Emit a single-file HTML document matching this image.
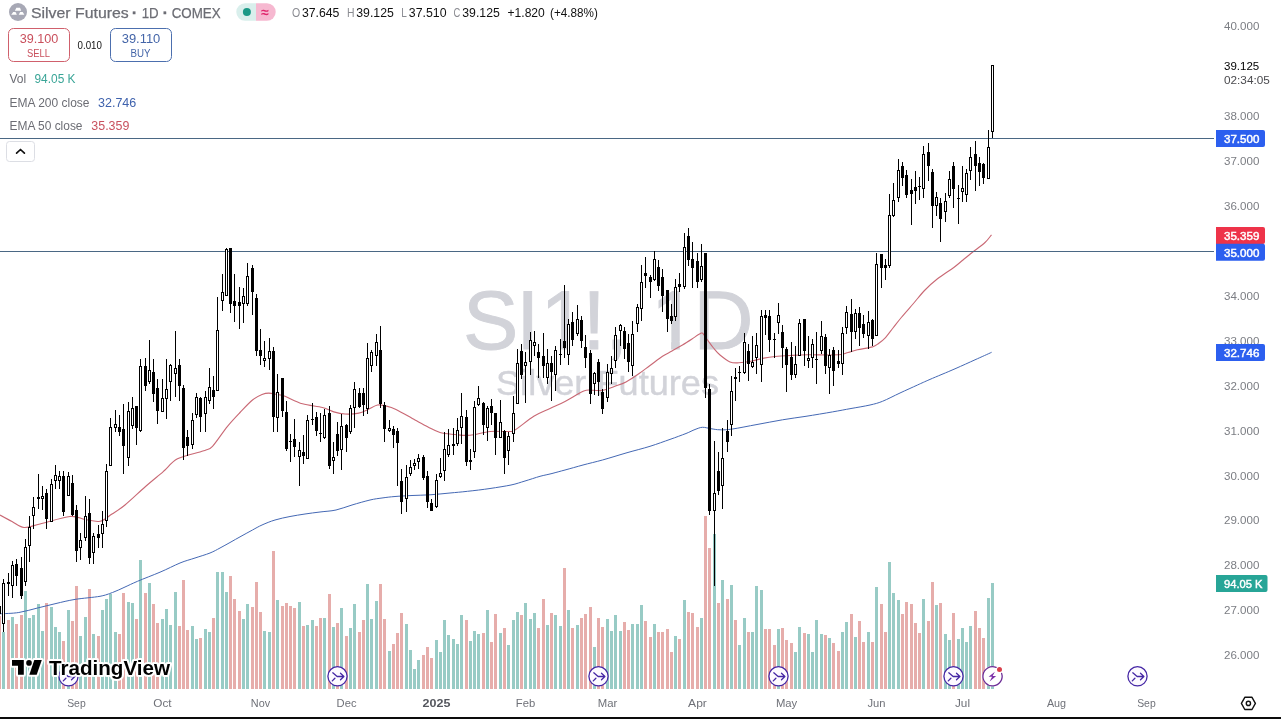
<!DOCTYPE html>
<html lang="en"><head><meta charset="utf-8"><title>Silver Futures 1D COMEX - TradingView</title>
<style>
html,body{margin:0;padding:0;background:#fff;}
body{width:1281px;height:719px;overflow:hidden;position:relative;font-family:"Liberation Sans",Arial,sans-serif;}
</style></head><body>
<svg width="1281" height="719" viewBox="0 0 1281 719" style="position:absolute;left:0;top:0">
<g font-family="'Liberation Sans', Arial, sans-serif" fill="#d2d3d9" stroke="#d2d3d9">
<text y="348.5" font-size="83" stroke-width="0.9" x="462.9 516.3 540.5 582.5 605.2 628 650.9 693.6">SI1!, 1D</text>
<rect x="543.5" y="341" width="17.2" height="9" fill="#fff" stroke="none"/>
<rect x="569.4" y="341" width="16" height="9" fill="#fff" stroke="none"/>
<rect x="653.9" y="341" width="17.2" height="9" fill="#fff" stroke="none"/>
<rect x="679.8" y="341" width="16" height="9" fill="#fff" stroke="none"/>
<text x="496" y="395" font-size="34.5" stroke-width="0.4" textLength="223" lengthAdjust="spacingAndGlyphs">Silver Futures</text>
</g>
<g shape-rendering="crispEdges">
<rect x="-2" y="616" width="3" height="73" fill="#e6adab"/>
<rect x="2" y="632" width="3" height="57" fill="#98cbc5"/>
<rect x="7" y="620" width="3" height="69" fill="#e6adab"/>
<rect x="11" y="617" width="3" height="72" fill="#98cbc5"/>
<rect x="15" y="624" width="3" height="65" fill="#e6adab"/>
<rect x="20" y="615" width="3" height="74" fill="#e6adab"/>
<rect x="24" y="591" width="3" height="98" fill="#98cbc5"/>
<rect x="28" y="618" width="3" height="71" fill="#98cbc5"/>
<rect x="32" y="615" width="3" height="74" fill="#98cbc5"/>
<rect x="37" y="604" width="3" height="85" fill="#98cbc5"/>
<rect x="41" y="631" width="3" height="58" fill="#98cbc5"/>
<rect x="45" y="603" width="3" height="86" fill="#e6adab"/>
<rect x="50" y="607" width="3" height="82" fill="#98cbc5"/>
<rect x="54" y="627" width="3" height="62" fill="#98cbc5"/>
<rect x="58" y="632" width="3" height="57" fill="#98cbc5"/>
<rect x="62" y="641" width="3" height="48" fill="#e6adab"/>
<rect x="67" y="610" width="3" height="79" fill="#98cbc5"/>
<rect x="71" y="621" width="3" height="68" fill="#e6adab"/>
<rect x="75" y="586" width="3" height="103" fill="#e6adab"/>
<rect x="79" y="636" width="3" height="53" fill="#98cbc5"/>
<rect x="84" y="617" width="3" height="72" fill="#98cbc5"/>
<rect x="88" y="589" width="3" height="100" fill="#e6adab"/>
<rect x="92" y="634" width="3" height="55" fill="#98cbc5"/>
<rect x="97" y="636" width="3" height="53" fill="#e6adab"/>
<rect x="101" y="610" width="3" height="79" fill="#98cbc5"/>
<rect x="105" y="599" width="3" height="90" fill="#98cbc5"/>
<rect x="109" y="594" width="3" height="95" fill="#98cbc5"/>
<rect x="114" y="632" width="3" height="57" fill="#98cbc5"/>
<rect x="118" y="634" width="3" height="55" fill="#e6adab"/>
<rect x="122" y="593" width="3" height="96" fill="#e6adab"/>
<rect x="127" y="602" width="3" height="87" fill="#98cbc5"/>
<rect x="131" y="603" width="3" height="86" fill="#98cbc5"/>
<rect x="135" y="619" width="3" height="70" fill="#e6adab"/>
<rect x="139" y="560" width="3" height="129" fill="#98cbc5"/>
<rect x="144" y="593" width="3" height="96" fill="#e6adab"/>
<rect x="148" y="583" width="3" height="106" fill="#98cbc5"/>
<rect x="152" y="604" width="3" height="85" fill="#e6adab"/>
<rect x="156" y="623" width="3" height="66" fill="#e6adab"/>
<rect x="161" y="619" width="3" height="70" fill="#98cbc5"/>
<rect x="165" y="609" width="3" height="80" fill="#98cbc5"/>
<rect x="169" y="625" width="3" height="64" fill="#98cbc5"/>
<rect x="174" y="592" width="3" height="97" fill="#98cbc5"/>
<rect x="178" y="626" width="3" height="63" fill="#e6adab"/>
<rect x="182" y="580" width="3" height="109" fill="#e6adab"/>
<rect x="186" y="630" width="3" height="59" fill="#e6adab"/>
<rect x="191" y="626" width="3" height="63" fill="#98cbc5"/>
<rect x="195" y="639" width="3" height="50" fill="#98cbc5"/>
<rect x="199" y="638" width="3" height="51" fill="#e6adab"/>
<rect x="204" y="629" width="3" height="60" fill="#98cbc5"/>
<rect x="208" y="632" width="3" height="57" fill="#98cbc5"/>
<rect x="212" y="618" width="3" height="71" fill="#e6adab"/>
<rect x="216" y="572" width="3" height="117" fill="#98cbc5"/>
<rect x="221" y="572" width="3" height="117" fill="#98cbc5"/>
<rect x="225" y="592" width="3" height="97" fill="#98cbc5"/>
<rect x="229" y="576" width="3" height="113" fill="#e6adab"/>
<rect x="233" y="599" width="3" height="90" fill="#e6adab"/>
<rect x="238" y="611" width="3" height="78" fill="#e6adab"/>
<rect x="242" y="619" width="3" height="70" fill="#98cbc5"/>
<rect x="246" y="604" width="3" height="85" fill="#98cbc5"/>
<rect x="251" y="607" width="3" height="82" fill="#e6adab"/>
<rect x="255" y="582" width="3" height="107" fill="#e6adab"/>
<rect x="259" y="612" width="3" height="77" fill="#e6adab"/>
<rect x="263" y="631" width="3" height="58" fill="#98cbc5"/>
<rect x="268" y="632" width="3" height="57" fill="#98cbc5"/>
<rect x="272" y="551" width="3" height="138" fill="#e6adab"/>
<rect x="276" y="600" width="3" height="89" fill="#98cbc5"/>
<rect x="281" y="606" width="3" height="83" fill="#e6adab"/>
<rect x="285" y="603" width="3" height="86" fill="#e6adab"/>
<rect x="289" y="606" width="3" height="83" fill="#e6adab"/>
<rect x="293" y="608" width="3" height="81" fill="#e6adab"/>
<rect x="298" y="602" width="3" height="87" fill="#98cbc5"/>
<rect x="302" y="626" width="3" height="63" fill="#e6adab"/>
<rect x="306" y="625" width="3" height="64" fill="#98cbc5"/>
<rect x="311" y="620" width="3" height="69" fill="#98cbc5"/>
<rect x="315" y="626" width="3" height="63" fill="#e6adab"/>
<rect x="319" y="618" width="3" height="71" fill="#e6adab"/>
<rect x="323" y="618" width="3" height="71" fill="#98cbc5"/>
<rect x="328" y="594" width="3" height="95" fill="#e6adab"/>
<rect x="332" y="627" width="3" height="62" fill="#98cbc5"/>
<rect x="336" y="623" width="3" height="66" fill="#e6adab"/>
<rect x="340" y="608" width="3" height="81" fill="#98cbc5"/>
<rect x="345" y="636" width="3" height="53" fill="#e6adab"/>
<rect x="349" y="628" width="3" height="61" fill="#98cbc5"/>
<rect x="353" y="604" width="3" height="85" fill="#98cbc5"/>
<rect x="358" y="632" width="3" height="57" fill="#e6adab"/>
<rect x="362" y="620" width="3" height="69" fill="#e6adab"/>
<rect x="366" y="584" width="3" height="105" fill="#98cbc5"/>
<rect x="370" y="619" width="3" height="70" fill="#98cbc5"/>
<rect x="375" y="601" width="3" height="88" fill="#98cbc5"/>
<rect x="379" y="584" width="3" height="105" fill="#e6adab"/>
<rect x="383" y="619" width="3" height="70" fill="#e6adab"/>
<rect x="388" y="651" width="3" height="38" fill="#98cbc5"/>
<rect x="392" y="644" width="3" height="45" fill="#e6adab"/>
<rect x="396" y="633" width="3" height="56" fill="#e6adab"/>
<rect x="400" y="613" width="3" height="76" fill="#e6adab"/>
<rect x="405" y="624" width="3" height="65" fill="#98cbc5"/>
<rect x="409" y="650" width="3" height="39" fill="#98cbc5"/>
<rect x="413" y="669" width="3" height="20" fill="#98cbc5"/>
<rect x="417" y="660" width="3" height="29" fill="#98cbc5"/>
<rect x="422" y="655" width="3" height="34" fill="#e6adab"/>
<rect x="426" y="647" width="3" height="42" fill="#e6adab"/>
<rect x="430" y="658" width="3" height="31" fill="#e6adab"/>
<rect x="435" y="640" width="3" height="49" fill="#98cbc5"/>
<rect x="439" y="652" width="3" height="37" fill="#98cbc5"/>
<rect x="443" y="620" width="3" height="69" fill="#98cbc5"/>
<rect x="447" y="635" width="3" height="54" fill="#98cbc5"/>
<rect x="452" y="639" width="3" height="50" fill="#98cbc5"/>
<rect x="456" y="644" width="3" height="45" fill="#98cbc5"/>
<rect x="460" y="615" width="3" height="74" fill="#98cbc5"/>
<rect x="465" y="620" width="3" height="69" fill="#e6adab"/>
<rect x="469" y="641" width="3" height="48" fill="#98cbc5"/>
<rect x="473" y="631" width="3" height="58" fill="#98cbc5"/>
<rect x="477" y="634" width="3" height="55" fill="#98cbc5"/>
<rect x="482" y="633" width="3" height="56" fill="#e6adab"/>
<rect x="486" y="610" width="3" height="79" fill="#98cbc5"/>
<rect x="490" y="642" width="3" height="47" fill="#e6adab"/>
<rect x="494" y="614" width="3" height="75" fill="#e6adab"/>
<rect x="499" y="633" width="3" height="56" fill="#98cbc5"/>
<rect x="503" y="628" width="3" height="61" fill="#e6adab"/>
<rect x="507" y="645" width="3" height="44" fill="#98cbc5"/>
<rect x="512" y="620" width="3" height="69" fill="#98cbc5"/>
<rect x="516" y="612" width="3" height="77" fill="#98cbc5"/>
<rect x="520" y="615" width="3" height="74" fill="#e6adab"/>
<rect x="524" y="603" width="3" height="86" fill="#98cbc5"/>
<rect x="529" y="619" width="3" height="70" fill="#98cbc5"/>
<rect x="533" y="613" width="3" height="76" fill="#98cbc5"/>
<rect x="537" y="628" width="3" height="61" fill="#e6adab"/>
<rect x="542" y="599" width="3" height="90" fill="#e6adab"/>
<rect x="546" y="625" width="3" height="64" fill="#98cbc5"/>
<rect x="550" y="613" width="3" height="76" fill="#e6adab"/>
<rect x="554" y="615" width="3" height="74" fill="#98cbc5"/>
<rect x="559" y="626" width="3" height="63" fill="#98cbc5"/>
<rect x="563" y="568" width="3" height="121" fill="#e6adab"/>
<rect x="567" y="610" width="3" height="79" fill="#98cbc5"/>
<rect x="571" y="628" width="3" height="61" fill="#e6adab"/>
<rect x="576" y="625" width="3" height="64" fill="#98cbc5"/>
<rect x="580" y="618" width="3" height="71" fill="#e6adab"/>
<rect x="584" y="614" width="3" height="75" fill="#e6adab"/>
<rect x="589" y="607" width="3" height="82" fill="#e6adab"/>
<rect x="593" y="647" width="3" height="42" fill="#98cbc5"/>
<rect x="597" y="618" width="3" height="71" fill="#e6adab"/>
<rect x="601" y="627" width="3" height="62" fill="#e6adab"/>
<rect x="606" y="619" width="3" height="70" fill="#98cbc5"/>
<rect x="610" y="631" width="3" height="58" fill="#98cbc5"/>
<rect x="614" y="615" width="3" height="74" fill="#98cbc5"/>
<rect x="619" y="631" width="3" height="58" fill="#98cbc5"/>
<rect x="623" y="622" width="3" height="67" fill="#e6adab"/>
<rect x="627" y="630" width="3" height="59" fill="#e6adab"/>
<rect x="631" y="624" width="3" height="65" fill="#98cbc5"/>
<rect x="636" y="624" width="3" height="65" fill="#98cbc5"/>
<rect x="640" y="605" width="3" height="84" fill="#98cbc5"/>
<rect x="644" y="621" width="3" height="68" fill="#e6adab"/>
<rect x="649" y="637" width="3" height="52" fill="#e6adab"/>
<rect x="653" y="624" width="3" height="65" fill="#98cbc5"/>
<rect x="657" y="632" width="3" height="57" fill="#e6adab"/>
<rect x="661" y="632" width="3" height="57" fill="#e6adab"/>
<rect x="666" y="629" width="3" height="60" fill="#e6adab"/>
<rect x="670" y="652" width="3" height="37" fill="#e6adab"/>
<rect x="674" y="636" width="3" height="53" fill="#98cbc5"/>
<rect x="678" y="639" width="3" height="50" fill="#e6adab"/>
<rect x="683" y="600" width="3" height="89" fill="#98cbc5"/>
<rect x="687" y="612" width="3" height="77" fill="#e6adab"/>
<rect x="691" y="613" width="3" height="76" fill="#e6adab"/>
<rect x="696" y="627" width="3" height="62" fill="#e6adab"/>
<rect x="700" y="618" width="3" height="71" fill="#98cbc5"/>
<rect x="704" y="516" width="3" height="173" fill="#e6adab"/>
<rect x="708" y="548" width="3" height="141" fill="#e6adab"/>
<rect x="713" y="534" width="3" height="155" fill="#98cbc5"/>
<rect x="717" y="603" width="3" height="86" fill="#e6adab"/>
<rect x="721" y="580" width="3" height="109" fill="#98cbc5"/>
<rect x="726" y="599" width="3" height="90" fill="#e6adab"/>
<rect x="730" y="585" width="3" height="104" fill="#98cbc5"/>
<rect x="734" y="620" width="3" height="69" fill="#e6adab"/>
<rect x="738" y="645" width="3" height="44" fill="#98cbc5"/>
<rect x="743" y="618" width="3" height="71" fill="#98cbc5"/>
<rect x="747" y="632" width="3" height="57" fill="#e6adab"/>
<rect x="751" y="632" width="3" height="57" fill="#98cbc5"/>
<rect x="755" y="586" width="3" height="103" fill="#98cbc5"/>
<rect x="760" y="590" width="3" height="99" fill="#98cbc5"/>
<rect x="764" y="629" width="3" height="60" fill="#e6adab"/>
<rect x="768" y="629" width="3" height="60" fill="#e6adab"/>
<rect x="773" y="645" width="3" height="44" fill="#e6adab"/>
<rect x="777" y="629" width="3" height="60" fill="#98cbc5"/>
<rect x="781" y="628" width="3" height="61" fill="#e6adab"/>
<rect x="785" y="640" width="3" height="49" fill="#e6adab"/>
<rect x="790" y="643" width="3" height="46" fill="#e6adab"/>
<rect x="794" y="652" width="3" height="37" fill="#98cbc5"/>
<rect x="798" y="627" width="3" height="62" fill="#98cbc5"/>
<rect x="803" y="633" width="3" height="56" fill="#e6adab"/>
<rect x="807" y="634" width="3" height="55" fill="#98cbc5"/>
<rect x="811" y="652" width="3" height="37" fill="#98cbc5"/>
<rect x="815" y="620" width="3" height="69" fill="#98cbc5"/>
<rect x="820" y="634" width="3" height="55" fill="#98cbc5"/>
<rect x="824" y="635" width="3" height="54" fill="#e6adab"/>
<rect x="828" y="638" width="3" height="51" fill="#98cbc5"/>
<rect x="832" y="643" width="3" height="46" fill="#e6adab"/>
<rect x="837" y="651" width="3" height="38" fill="#e6adab"/>
<rect x="841" y="632" width="3" height="57" fill="#98cbc5"/>
<rect x="845" y="622" width="3" height="67" fill="#98cbc5"/>
<rect x="850" y="614" width="3" height="75" fill="#e6adab"/>
<rect x="854" y="637" width="3" height="52" fill="#98cbc5"/>
<rect x="858" y="621" width="3" height="68" fill="#e6adab"/>
<rect x="862" y="642" width="3" height="47" fill="#e6adab"/>
<rect x="867" y="632" width="3" height="57" fill="#98cbc5"/>
<rect x="871" y="642" width="3" height="47" fill="#e6adab"/>
<rect x="875" y="587" width="3" height="102" fill="#98cbc5"/>
<rect x="880" y="604" width="3" height="85" fill="#e6adab"/>
<rect x="884" y="632" width="3" height="57" fill="#e6adab"/>
<rect x="888" y="562" width="3" height="127" fill="#98cbc5"/>
<rect x="892" y="593" width="3" height="96" fill="#98cbc5"/>
<rect x="897" y="600" width="3" height="89" fill="#98cbc5"/>
<rect x="901" y="614" width="3" height="75" fill="#e6adab"/>
<rect x="905" y="602" width="3" height="87" fill="#e6adab"/>
<rect x="910" y="604" width="3" height="85" fill="#e6adab"/>
<rect x="914" y="623" width="3" height="66" fill="#e6adab"/>
<rect x="918" y="633" width="3" height="56" fill="#e6adab"/>
<rect x="922" y="599" width="3" height="90" fill="#98cbc5"/>
<rect x="927" y="621" width="3" height="68" fill="#e6adab"/>
<rect x="931" y="582" width="3" height="107" fill="#e6adab"/>
<rect x="935" y="605" width="3" height="84" fill="#98cbc5"/>
<rect x="939" y="603" width="3" height="86" fill="#e6adab"/>
<rect x="944" y="634" width="3" height="55" fill="#98cbc5"/>
<rect x="948" y="640" width="3" height="49" fill="#98cbc5"/>
<rect x="952" y="613" width="3" height="76" fill="#e6adab"/>
<rect x="957" y="639" width="3" height="50" fill="#98cbc5"/>
<rect x="961" y="628" width="3" height="61" fill="#98cbc5"/>
<rect x="965" y="642" width="3" height="47" fill="#98cbc5"/>
<rect x="969" y="626" width="3" height="63" fill="#98cbc5"/>
<rect x="974" y="611" width="3" height="78" fill="#e6adab"/>
<rect x="978" y="628" width="3" height="61" fill="#e6adab"/>
<rect x="982" y="638" width="3" height="51" fill="#e6adab"/>
<rect x="987" y="598" width="3" height="91" fill="#98cbc5"/>
<rect x="991" y="583" width="3" height="106" fill="#98cbc5"/>
</g>
<path d="M0.0,613.8 C3.1,613.6 12.6,613.5 18.8,612.5 C25.1,611.5 31.3,609.5 37.5,608.0 C43.7,606.5 49.8,604.9 56.0,603.5 C62.2,602.1 67.7,600.6 75.0,599.4 C82.3,598.2 93.8,597.4 100.0,596.3 C106.2,595.1 108.3,594.0 112.5,592.5 C116.7,591.0 120.8,588.9 125.0,587.0 C129.2,585.1 131.7,583.8 137.5,581.3 C143.3,578.8 152.9,575.2 160.0,572.2 C167.1,569.2 174.2,565.4 180.0,563.0 C185.8,560.6 190.0,559.7 195.0,558.0 C200.0,556.3 205.8,554.7 210.0,553.0 C214.2,551.3 216.7,549.8 220.0,548.0 C223.3,546.2 226.5,544.5 230.0,542.5 C233.5,540.5 237.2,538.4 241.0,536.3 C244.8,534.2 249.0,531.9 252.5,530.0 C256.0,528.1 258.2,526.7 262.0,525.0 C265.8,523.3 270.3,521.4 275.0,520.0 C279.7,518.6 285.0,517.5 290.0,516.5 C295.0,515.5 300.0,514.8 305.0,514.0 C310.0,513.2 314.8,512.7 320.0,512.0 C325.2,511.3 330.7,511.2 336.0,510.0 C341.3,508.8 346.3,506.7 352.0,505.0 C357.7,503.3 365.0,501.2 370.0,500.0 C375.0,498.8 377.8,498.6 382.0,498.0 C386.2,497.4 390.0,496.9 395.0,496.5 C400.0,496.1 406.2,495.8 412.0,495.5 C417.8,495.2 423.7,495.2 430.0,494.8 C436.3,494.4 443.8,493.6 450.0,493.0 C456.2,492.4 460.8,492.1 467.5,491.3 C474.2,490.6 482.8,489.6 490.0,488.5 C497.2,487.4 505.2,486.2 511.0,485.0 C516.8,483.8 520.2,482.4 525.0,481.0 C529.8,479.6 535.5,477.6 540.0,476.3 C544.5,475.1 547.8,474.6 552.0,473.5 C556.2,472.4 559.8,471.4 565.0,470.0 C570.2,468.6 576.8,466.7 583.0,465.0 C589.2,463.3 595.3,462.0 602.5,460.0 C609.7,458.0 618.1,455.3 626.0,453.0 C633.9,450.7 642.7,448.6 650.0,446.3 C657.3,444.0 664.0,441.5 670.0,439.4 C676.0,437.3 681.8,435.1 686.0,433.5 C690.2,431.9 692.2,430.5 695.0,429.5 C697.8,428.5 699.8,427.4 702.5,427.3 C705.2,427.2 708.1,428.3 711.0,428.7 C713.9,429.1 716.4,429.8 720.0,429.8 C723.6,429.9 726.3,429.9 732.5,429.0 C738.7,428.1 748.7,426.0 757.0,424.5 C765.3,423.0 774.3,421.2 782.5,419.8 C790.7,418.4 797.7,417.6 806.0,416.3 C814.3,415.0 825.0,413.2 832.5,411.9 C840.0,410.6 844.8,409.6 851.0,408.5 C857.2,407.4 864.8,406.2 870.0,405.0 C875.2,403.8 877.5,403.3 882.5,401.3 C887.5,399.3 894.2,395.7 900.0,393.0 C905.8,390.3 912.5,387.3 917.5,385.0 C922.5,382.7 923.8,382.1 930.0,379.4 C936.2,376.7 947.5,372.1 955.0,368.8 C962.5,365.5 968.9,362.6 975.0,359.8 C981.1,357.1 988.8,353.6 991.6,352.3" fill="none" stroke="#4468b4" stroke-width="1" stroke-linejoin="round"/>
<path d="M0.0,515.0 C2.0,516.1 8.0,519.4 12.0,521.5 C16.0,523.6 19.3,527.1 24.0,527.5 C28.7,527.9 32.3,525.8 40.0,524.0 C47.7,522.2 62.5,517.2 70.0,516.5 C77.5,515.8 80.0,518.7 85.0,519.5 C90.0,520.3 95.5,522.2 100.0,521.3 C104.5,520.4 107.8,516.7 112.0,514.0 C116.2,511.3 119.5,509.5 125.0,505.0 C130.5,500.5 139.2,492.1 145.0,487.0 C150.8,481.9 156.7,477.2 160.0,474.4 C163.3,471.6 162.1,472.6 165.0,470.0 C167.9,467.4 171.7,461.8 177.5,458.8 C183.3,455.8 195.2,453.4 200.0,451.9 C204.8,450.4 203.9,450.9 206.0,450.0 C208.1,449.1 208.9,450.2 212.5,446.3 C216.1,442.4 222.9,431.9 227.5,426.3 C232.1,420.7 235.8,416.9 240.0,412.5 C244.2,408.1 248.8,403.0 252.5,400.0 C256.2,397.0 259.3,395.6 262.0,394.5 C264.7,393.4 266.3,393.1 268.8,393.1 C271.3,393.1 274.3,394.0 277.0,394.5 C279.7,395.0 280.8,394.8 285.0,396.3 C289.2,397.9 296.2,401.9 302.5,403.8 C308.8,405.7 317.3,406.1 322.5,407.5 C327.7,408.9 330.1,410.8 333.8,411.9 C337.6,413.0 340.8,413.8 345.0,414.0 C349.2,414.2 355.0,413.9 358.8,413.1 C362.6,412.4 364.9,410.9 368.0,409.5 C371.1,408.1 374.5,405.6 377.5,405.0 C380.5,404.4 382.9,405.3 386.0,406.0 C389.1,406.7 391.2,407.1 396.0,409.4 C400.8,411.7 409.7,417.1 415.0,420.0 C420.3,422.9 423.8,424.9 428.0,427.0 C432.2,429.1 435.5,431.2 440.0,432.5 C444.5,433.8 450.0,434.0 455.0,434.5 C460.0,435.0 464.2,435.8 470.0,435.3 C475.8,434.8 483.5,432.1 490.0,431.5 C496.5,430.9 504.6,431.8 508.8,431.5 C513.0,431.2 510.8,432.5 515.0,430.0 C519.2,427.5 528.0,419.9 533.8,416.3 C539.6,412.7 544.8,411.0 550.0,408.5 C555.2,406.0 559.4,404.4 565.0,401.5 C570.6,398.6 579.1,392.9 583.8,391.0 C588.5,389.1 589.9,390.4 593.0,390.3 C596.1,390.2 598.8,391.0 602.5,390.3 C606.2,389.6 611.1,387.7 615.0,386.3 C618.9,384.9 622.0,384.1 626.0,382.0 C630.0,379.9 634.8,376.6 638.8,373.8 C642.8,371.1 646.0,368.4 650.0,365.5 C654.0,362.6 658.8,358.7 662.5,356.3 C666.2,353.9 668.7,352.9 672.0,351.0 C675.3,349.1 679.2,347.0 682.5,345.0 C685.8,343.0 688.9,341.0 692.0,339.0 C695.1,337.0 699.3,333.8 701.3,333.1 C703.3,332.4 703.0,333.9 704.0,335.0 C705.0,336.1 705.9,337.8 707.5,340.0 C709.1,342.2 711.4,345.5 713.5,348.0 C715.6,350.5 717.2,352.7 720.0,355.0 C722.8,357.3 726.9,360.6 730.0,361.9 C733.1,363.2 735.3,362.9 738.8,362.8 C742.3,362.7 746.8,362.1 751.0,361.3 C755.2,360.5 759.8,358.9 763.8,358.1 C767.8,357.3 770.6,356.9 775.0,356.5 C779.4,356.1 784.6,355.8 790.0,355.5 C795.4,355.2 799.4,354.9 807.5,354.8 C815.6,354.7 832.0,355.2 838.8,354.8 C845.5,354.4 844.9,353.3 848.0,352.5 C851.1,351.7 853.4,350.7 857.5,349.8 C861.6,348.9 869.0,347.9 872.5,346.9 C876.0,345.8 876.4,345.0 878.5,343.5 C880.6,342.0 882.6,340.7 885.0,338.1 C887.4,335.5 890.3,331.4 893.0,328.0 C895.7,324.6 898.0,321.5 901.3,317.5 C904.6,313.5 909.0,308.6 913.0,304.0 C917.0,299.4 920.9,294.2 925.0,290.0 C929.1,285.8 932.7,282.6 937.5,278.8 C942.3,275.1 949.5,270.6 953.8,267.5 C958.0,264.4 959.9,262.5 963.0,260.0 C966.1,257.5 968.8,255.2 972.5,252.3 C976.2,249.4 981.8,245.4 985.0,242.5 C988.2,239.6 990.4,236.1 991.5,234.8" fill="none" stroke="#c96874" stroke-width="1.1" stroke-linejoin="round"/>
<g shape-rendering="crispEdges" fill="#4a6784">
<rect x="0" y="138" width="1214" height="1"/>
<rect x="0" y="251" width="1214" height="1"/>
</g>
<g shape-rendering="crispEdges" fill="#000">
<rect x="-1" y="604" width="1" height="12"/>
<rect x="-2" y="606" width="3" height="8"/>
<rect x="3" y="579" width="1" height="53"/>
<rect x="2" y="583" width="3" height="41"/>
<rect x="3" y="584" width="1" height="39" fill="#fff"/>
<rect x="8" y="573" width="1" height="23"/>
<rect x="7" y="582" width="3" height="2"/>
<rect x="12" y="561" width="1" height="37"/>
<rect x="11" y="565" width="3" height="21"/>
<rect x="12" y="566" width="1" height="19" fill="#fff"/>
<rect x="16" y="559" width="1" height="27"/>
<rect x="15" y="564" width="3" height="12"/>
<rect x="21" y="557" width="1" height="42"/>
<rect x="20" y="568" width="3" height="28"/>
<rect x="25" y="539" width="1" height="47"/>
<rect x="24" y="547" width="3" height="35"/>
<rect x="25" y="548" width="1" height="33" fill="#fff"/>
<rect x="29" y="516" width="1" height="46"/>
<rect x="28" y="527" width="3" height="19"/>
<rect x="29" y="528" width="1" height="17" fill="#fff"/>
<rect x="33" y="497" width="1" height="32"/>
<rect x="32" y="507" width="3" height="9"/>
<rect x="33" y="508" width="1" height="7" fill="#fff"/>
<rect x="38" y="474" width="1" height="35"/>
<rect x="37" y="497" width="3" height="2"/>
<rect x="42" y="486" width="1" height="24"/>
<rect x="41" y="496" width="3" height="3"/>
<rect x="42" y="497" width="1" height="1" fill="#fff"/>
<rect x="46" y="489" width="1" height="40"/>
<rect x="45" y="493" width="3" height="26"/>
<rect x="51" y="479" width="1" height="43"/>
<rect x="50" y="484" width="3" height="38"/>
<rect x="51" y="485" width="1" height="36" fill="#fff"/>
<rect x="55" y="465" width="1" height="24"/>
<rect x="54" y="475" width="3" height="6"/>
<rect x="55" y="476" width="1" height="4" fill="#fff"/>
<rect x="59" y="471" width="1" height="18"/>
<rect x="58" y="476" width="3" height="5"/>
<rect x="59" y="477" width="1" height="3" fill="#fff"/>
<rect x="63" y="471" width="1" height="45"/>
<rect x="62" y="476" width="3" height="36"/>
<rect x="68" y="472" width="1" height="24"/>
<rect x="67" y="476" width="3" height="20"/>
<rect x="68" y="477" width="1" height="18" fill="#fff"/>
<rect x="72" y="475" width="1" height="41"/>
<rect x="71" y="483" width="3" height="32"/>
<rect x="76" y="505" width="1" height="57"/>
<rect x="75" y="510" width="3" height="41"/>
<rect x="80" y="533" width="1" height="27"/>
<rect x="79" y="540" width="3" height="8"/>
<rect x="80" y="541" width="1" height="6" fill="#fff"/>
<rect x="85" y="496" width="1" height="45"/>
<rect x="84" y="516" width="3" height="22"/>
<rect x="85" y="517" width="1" height="20" fill="#fff"/>
<rect x="89" y="499" width="1" height="65"/>
<rect x="88" y="513" width="3" height="45"/>
<rect x="93" y="533" width="1" height="31"/>
<rect x="92" y="536" width="3" height="17"/>
<rect x="93" y="537" width="1" height="15" fill="#fff"/>
<rect x="98" y="525" width="1" height="23"/>
<rect x="97" y="534" width="3" height="4"/>
<rect x="102" y="511" width="1" height="37"/>
<rect x="101" y="524" width="3" height="10"/>
<rect x="102" y="525" width="1" height="8" fill="#fff"/>
<rect x="106" y="464" width="1" height="63"/>
<rect x="105" y="471" width="3" height="50"/>
<rect x="106" y="472" width="1" height="48" fill="#fff"/>
<rect x="110" y="418" width="1" height="48"/>
<rect x="109" y="427" width="3" height="39"/>
<rect x="110" y="428" width="1" height="37" fill="#fff"/>
<rect x="115" y="410" width="1" height="22"/>
<rect x="114" y="424" width="3" height="4"/>
<rect x="115" y="425" width="1" height="2" fill="#fff"/>
<rect x="119" y="415" width="1" height="21"/>
<rect x="118" y="427" width="3" height="5"/>
<rect x="123" y="404" width="1" height="70"/>
<rect x="122" y="429" width="3" height="17"/>
<rect x="128" y="402" width="1" height="64"/>
<rect x="127" y="411" width="3" height="47"/>
<rect x="128" y="412" width="1" height="45" fill="#fff"/>
<rect x="132" y="397" width="1" height="32"/>
<rect x="131" y="408" width="3" height="18"/>
<rect x="132" y="409" width="1" height="16" fill="#fff"/>
<rect x="136" y="406" width="1" height="39"/>
<rect x="135" y="406" width="3" height="22"/>
<rect x="140" y="359" width="1" height="73"/>
<rect x="139" y="366" width="3" height="65"/>
<rect x="140" y="367" width="1" height="63" fill="#fff"/>
<rect x="145" y="358" width="1" height="33"/>
<rect x="144" y="366" width="3" height="20"/>
<rect x="149" y="340" width="1" height="44"/>
<rect x="148" y="370" width="3" height="12"/>
<rect x="149" y="371" width="1" height="10" fill="#fff"/>
<rect x="153" y="359" width="1" height="43"/>
<rect x="152" y="372" width="3" height="22"/>
<rect x="157" y="379" width="1" height="45"/>
<rect x="156" y="388" width="3" height="23"/>
<rect x="162" y="379" width="1" height="33"/>
<rect x="161" y="398" width="3" height="14"/>
<rect x="162" y="399" width="1" height="12" fill="#fff"/>
<rect x="166" y="359" width="1" height="60"/>
<rect x="165" y="389" width="3" height="10"/>
<rect x="166" y="390" width="1" height="8" fill="#fff"/>
<rect x="170" y="364" width="1" height="37"/>
<rect x="169" y="365" width="3" height="17"/>
<rect x="170" y="366" width="1" height="15" fill="#fff"/>
<rect x="175" y="331" width="1" height="66"/>
<rect x="174" y="368" width="3" height="6"/>
<rect x="175" y="369" width="1" height="4" fill="#fff"/>
<rect x="179" y="359" width="1" height="42"/>
<rect x="178" y="365" width="3" height="21"/>
<rect x="183" y="385" width="1" height="75"/>
<rect x="182" y="388" width="3" height="60"/>
<rect x="187" y="430" width="1" height="26"/>
<rect x="186" y="437" width="3" height="9"/>
<rect x="192" y="413" width="1" height="36"/>
<rect x="191" y="420" width="3" height="25"/>
<rect x="192" y="421" width="1" height="23" fill="#fff"/>
<rect x="196" y="393" width="1" height="25"/>
<rect x="195" y="397" width="3" height="18"/>
<rect x="196" y="398" width="1" height="16" fill="#fff"/>
<rect x="200" y="397" width="1" height="35"/>
<rect x="199" y="398" width="3" height="19"/>
<rect x="205" y="391" width="1" height="41"/>
<rect x="204" y="397" width="3" height="17"/>
<rect x="205" y="398" width="1" height="15" fill="#fff"/>
<rect x="209" y="368" width="1" height="36"/>
<rect x="208" y="387" width="3" height="14"/>
<rect x="209" y="388" width="1" height="12" fill="#fff"/>
<rect x="213" y="376" width="1" height="33"/>
<rect x="212" y="390" width="3" height="7"/>
<rect x="217" y="297" width="1" height="94"/>
<rect x="216" y="330" width="3" height="61"/>
<rect x="217" y="331" width="1" height="59" fill="#fff"/>
<rect x="222" y="274" width="1" height="37"/>
<rect x="221" y="292" width="3" height="9"/>
<rect x="222" y="293" width="1" height="7" fill="#fff"/>
<rect x="226" y="248" width="1" height="48"/>
<rect x="225" y="249" width="3" height="47"/>
<rect x="226" y="250" width="1" height="45" fill="#fff"/>
<rect x="230" y="248" width="1" height="65"/>
<rect x="229" y="248" width="3" height="56"/>
<rect x="234" y="274" width="1" height="48"/>
<rect x="233" y="301" width="3" height="5"/>
<rect x="239" y="287" width="1" height="42"/>
<rect x="238" y="302" width="3" height="4"/>
<rect x="243" y="288" width="1" height="35"/>
<rect x="242" y="296" width="3" height="8"/>
<rect x="243" y="297" width="1" height="6" fill="#fff"/>
<rect x="247" y="263" width="1" height="43"/>
<rect x="246" y="276" width="3" height="28"/>
<rect x="247" y="277" width="1" height="26" fill="#fff"/>
<rect x="252" y="265" width="1" height="50"/>
<rect x="251" y="268" width="3" height="24"/>
<rect x="256" y="294" width="1" height="62"/>
<rect x="255" y="298" width="3" height="53"/>
<rect x="260" y="329" width="1" height="36"/>
<rect x="259" y="350" width="3" height="6"/>
<rect x="264" y="341" width="1" height="26"/>
<rect x="263" y="358" width="3" height="3"/>
<rect x="264" y="359" width="1" height="1" fill="#fff"/>
<rect x="269" y="338" width="1" height="32"/>
<rect x="268" y="351" width="3" height="8"/>
<rect x="269" y="352" width="1" height="6" fill="#fff"/>
<rect x="273" y="347" width="1" height="85"/>
<rect x="272" y="351" width="3" height="66"/>
<rect x="277" y="374" width="1" height="58"/>
<rect x="276" y="392" width="3" height="26"/>
<rect x="277" y="393" width="1" height="24" fill="#fff"/>
<rect x="282" y="378" width="1" height="39"/>
<rect x="281" y="378" width="3" height="33"/>
<rect x="286" y="401" width="1" height="50"/>
<rect x="285" y="412" width="3" height="37"/>
<rect x="290" y="434" width="1" height="28"/>
<rect x="289" y="441" width="3" height="1"/>
<rect x="294" y="419" width="1" height="38"/>
<rect x="293" y="439" width="3" height="8"/>
<rect x="299" y="442" width="1" height="44"/>
<rect x="298" y="450" width="3" height="7"/>
<rect x="299" y="451" width="1" height="5" fill="#fff"/>
<rect x="303" y="435" width="1" height="29"/>
<rect x="302" y="452" width="3" height="4"/>
<rect x="307" y="415" width="1" height="44"/>
<rect x="306" y="420" width="3" height="39"/>
<rect x="307" y="421" width="1" height="37" fill="#fff"/>
<rect x="312" y="403" width="1" height="22"/>
<rect x="311" y="419" width="3" height="1"/>
<rect x="316" y="412" width="1" height="24"/>
<rect x="315" y="417" width="3" height="14"/>
<rect x="320" y="413" width="1" height="29"/>
<rect x="319" y="433" width="3" height="1"/>
<rect x="324" y="409" width="1" height="30"/>
<rect x="323" y="415" width="3" height="23"/>
<rect x="324" y="416" width="1" height="21" fill="#fff"/>
<rect x="329" y="406" width="1" height="63"/>
<rect x="328" y="413" width="3" height="53"/>
<rect x="333" y="442" width="1" height="32"/>
<rect x="332" y="457" width="3" height="4"/>
<rect x="333" y="458" width="1" height="2" fill="#fff"/>
<rect x="337" y="422" width="1" height="34"/>
<rect x="336" y="434" width="3" height="17"/>
<rect x="341" y="414" width="1" height="56"/>
<rect x="340" y="426" width="3" height="24"/>
<rect x="341" y="427" width="1" height="22" fill="#fff"/>
<rect x="346" y="424" width="1" height="28"/>
<rect x="345" y="425" width="3" height="13"/>
<rect x="350" y="405" width="1" height="29"/>
<rect x="349" y="408" width="3" height="24"/>
<rect x="350" y="409" width="1" height="22" fill="#fff"/>
<rect x="354" y="382" width="1" height="46"/>
<rect x="353" y="389" width="3" height="19"/>
<rect x="354" y="390" width="1" height="17" fill="#fff"/>
<rect x="359" y="388" width="1" height="20"/>
<rect x="358" y="393" width="3" height="14"/>
<rect x="363" y="388" width="1" height="28"/>
<rect x="362" y="393" width="3" height="12"/>
<rect x="367" y="343" width="1" height="71"/>
<rect x="366" y="358" width="3" height="51"/>
<rect x="367" y="359" width="1" height="49" fill="#fff"/>
<rect x="371" y="350" width="1" height="22"/>
<rect x="370" y="352" width="3" height="14"/>
<rect x="371" y="353" width="1" height="12" fill="#fff"/>
<rect x="376" y="334" width="1" height="32"/>
<rect x="375" y="342" width="3" height="14"/>
<rect x="376" y="343" width="1" height="12" fill="#fff"/>
<rect x="380" y="326" width="1" height="82"/>
<rect x="379" y="350" width="3" height="54"/>
<rect x="384" y="402" width="1" height="40"/>
<rect x="383" y="405" width="3" height="24"/>
<rect x="389" y="420" width="1" height="12"/>
<rect x="388" y="428" width="3" height="3"/>
<rect x="389" y="429" width="1" height="1" fill="#fff"/>
<rect x="393" y="426" width="1" height="22"/>
<rect x="392" y="429" width="3" height="6"/>
<rect x="397" y="428" width="1" height="58"/>
<rect x="396" y="431" width="3" height="12"/>
<rect x="401" y="469" width="1" height="45"/>
<rect x="400" y="481" width="3" height="21"/>
<rect x="406" y="465" width="1" height="47"/>
<rect x="405" y="477" width="3" height="22"/>
<rect x="406" y="478" width="1" height="20" fill="#fff"/>
<rect x="410" y="460" width="1" height="16"/>
<rect x="409" y="467" width="3" height="7"/>
<rect x="410" y="468" width="1" height="5" fill="#fff"/>
<rect x="414" y="459" width="1" height="11"/>
<rect x="413" y="463" width="3" height="3"/>
<rect x="414" y="464" width="1" height="1" fill="#fff"/>
<rect x="418" y="454" width="1" height="15"/>
<rect x="417" y="458" width="3" height="4"/>
<rect x="418" y="459" width="1" height="2" fill="#fff"/>
<rect x="423" y="455" width="1" height="25"/>
<rect x="422" y="457" width="3" height="21"/>
<rect x="427" y="471" width="1" height="37"/>
<rect x="426" y="476" width="3" height="26"/>
<rect x="431" y="499" width="1" height="12"/>
<rect x="430" y="503" width="3" height="8"/>
<rect x="436" y="474" width="1" height="34"/>
<rect x="435" y="480" width="3" height="27"/>
<rect x="436" y="481" width="1" height="25" fill="#fff"/>
<rect x="440" y="458" width="1" height="20"/>
<rect x="439" y="473" width="3" height="4"/>
<rect x="440" y="474" width="1" height="2" fill="#fff"/>
<rect x="444" y="432" width="1" height="49"/>
<rect x="443" y="449" width="3" height="22"/>
<rect x="444" y="450" width="1" height="20" fill="#fff"/>
<rect x="448" y="429" width="1" height="28"/>
<rect x="447" y="445" width="3" height="10"/>
<rect x="448" y="446" width="1" height="8" fill="#fff"/>
<rect x="453" y="428" width="1" height="27"/>
<rect x="452" y="444" width="3" height="2"/>
<rect x="457" y="418" width="1" height="28"/>
<rect x="456" y="430" width="3" height="14"/>
<rect x="457" y="431" width="1" height="12" fill="#fff"/>
<rect x="461" y="393" width="1" height="51"/>
<rect x="460" y="416" width="3" height="12"/>
<rect x="461" y="417" width="1" height="10" fill="#fff"/>
<rect x="466" y="410" width="1" height="56"/>
<rect x="465" y="417" width="3" height="45"/>
<rect x="470" y="449" width="1" height="21"/>
<rect x="469" y="460" width="3" height="2"/>
<rect x="474" y="401" width="1" height="57"/>
<rect x="473" y="407" width="3" height="45"/>
<rect x="474" y="408" width="1" height="43" fill="#fff"/>
<rect x="478" y="386" width="1" height="20"/>
<rect x="477" y="398" width="3" height="7"/>
<rect x="478" y="399" width="1" height="5" fill="#fff"/>
<rect x="483" y="402" width="1" height="33"/>
<rect x="482" y="403" width="3" height="22"/>
<rect x="487" y="406" width="1" height="35"/>
<rect x="486" y="408" width="3" height="20"/>
<rect x="487" y="409" width="1" height="18" fill="#fff"/>
<rect x="491" y="399" width="1" height="26"/>
<rect x="490" y="406" width="3" height="7"/>
<rect x="495" y="413" width="1" height="42"/>
<rect x="494" y="413" width="3" height="25"/>
<rect x="500" y="400" width="1" height="38"/>
<rect x="499" y="422" width="3" height="16"/>
<rect x="500" y="423" width="1" height="14" fill="#fff"/>
<rect x="504" y="430" width="1" height="44"/>
<rect x="503" y="431" width="3" height="27"/>
<rect x="508" y="432" width="1" height="33"/>
<rect x="507" y="436" width="3" height="15"/>
<rect x="508" y="437" width="1" height="13" fill="#fff"/>
<rect x="513" y="396" width="1" height="46"/>
<rect x="512" y="413" width="3" height="21"/>
<rect x="513" y="414" width="1" height="19" fill="#fff"/>
<rect x="517" y="349" width="1" height="55"/>
<rect x="516" y="363" width="3" height="41"/>
<rect x="517" y="364" width="1" height="39" fill="#fff"/>
<rect x="521" y="344" width="1" height="35"/>
<rect x="520" y="351" width="3" height="24"/>
<rect x="525" y="352" width="1" height="51"/>
<rect x="524" y="362" width="3" height="4"/>
<rect x="525" y="363" width="1" height="2" fill="#fff"/>
<rect x="530" y="332" width="1" height="43"/>
<rect x="529" y="340" width="3" height="22"/>
<rect x="530" y="341" width="1" height="20" fill="#fff"/>
<rect x="534" y="331" width="1" height="25"/>
<rect x="533" y="342" width="3" height="4"/>
<rect x="534" y="343" width="1" height="2" fill="#fff"/>
<rect x="538" y="344" width="1" height="34"/>
<rect x="537" y="352" width="3" height="6"/>
<rect x="543" y="333" width="1" height="45"/>
<rect x="542" y="356" width="3" height="10"/>
<rect x="547" y="349" width="1" height="35"/>
<rect x="546" y="363" width="3" height="15"/>
<rect x="547" y="364" width="1" height="13" fill="#fff"/>
<rect x="551" y="356" width="1" height="45"/>
<rect x="550" y="363" width="3" height="9"/>
<rect x="555" y="346" width="1" height="45"/>
<rect x="554" y="350" width="3" height="25"/>
<rect x="555" y="351" width="1" height="23" fill="#fff"/>
<rect x="560" y="339" width="1" height="26"/>
<rect x="559" y="354" width="3" height="1"/>
<rect x="564" y="285" width="1" height="73"/>
<rect x="563" y="341" width="3" height="7"/>
<rect x="568" y="319" width="1" height="46"/>
<rect x="567" y="324" width="3" height="31"/>
<rect x="568" y="325" width="1" height="29" fill="#fff"/>
<rect x="572" y="312" width="1" height="34"/>
<rect x="571" y="322" width="3" height="18"/>
<rect x="577" y="305" width="1" height="31"/>
<rect x="576" y="319" width="3" height="15"/>
<rect x="577" y="320" width="1" height="13" fill="#fff"/>
<rect x="581" y="316" width="1" height="32"/>
<rect x="580" y="320" width="3" height="21"/>
<rect x="585" y="335" width="1" height="33"/>
<rect x="584" y="347" width="3" height="11"/>
<rect x="590" y="350" width="1" height="54"/>
<rect x="589" y="353" width="3" height="41"/>
<rect x="594" y="372" width="1" height="23"/>
<rect x="593" y="373" width="3" height="11"/>
<rect x="594" y="374" width="1" height="9" fill="#fff"/>
<rect x="598" y="359" width="1" height="37"/>
<rect x="597" y="362" width="3" height="20"/>
<rect x="602" y="389" width="1" height="25"/>
<rect x="601" y="392" width="3" height="17"/>
<rect x="607" y="364" width="1" height="38"/>
<rect x="606" y="372" width="3" height="26"/>
<rect x="607" y="373" width="1" height="24" fill="#fff"/>
<rect x="611" y="356" width="1" height="28"/>
<rect x="610" y="368" width="3" height="6"/>
<rect x="611" y="369" width="1" height="4" fill="#fff"/>
<rect x="615" y="327" width="1" height="41"/>
<rect x="614" y="335" width="3" height="26"/>
<rect x="615" y="336" width="1" height="24" fill="#fff"/>
<rect x="620" y="324" width="1" height="22"/>
<rect x="619" y="325" width="3" height="6"/>
<rect x="620" y="326" width="1" height="4" fill="#fff"/>
<rect x="624" y="327" width="1" height="32"/>
<rect x="623" y="331" width="3" height="18"/>
<rect x="628" y="334" width="1" height="38"/>
<rect x="627" y="343" width="3" height="19"/>
<rect x="632" y="321" width="1" height="55"/>
<rect x="631" y="334" width="3" height="32"/>
<rect x="632" y="335" width="1" height="30" fill="#fff"/>
<rect x="637" y="304" width="1" height="28"/>
<rect x="636" y="307" width="3" height="17"/>
<rect x="637" y="308" width="1" height="15" fill="#fff"/>
<rect x="641" y="265" width="1" height="56"/>
<rect x="640" y="282" width="3" height="27"/>
<rect x="641" y="283" width="1" height="25" fill="#fff"/>
<rect x="645" y="257" width="1" height="31"/>
<rect x="644" y="273" width="3" height="3"/>
<rect x="650" y="275" width="1" height="23"/>
<rect x="649" y="277" width="3" height="5"/>
<rect x="654" y="251" width="1" height="30"/>
<rect x="653" y="259" width="3" height="21"/>
<rect x="654" y="260" width="1" height="19" fill="#fff"/>
<rect x="658" y="260" width="1" height="31"/>
<rect x="657" y="267" width="3" height="19"/>
<rect x="662" y="269" width="1" height="43"/>
<rect x="661" y="277" width="3" height="19"/>
<rect x="667" y="290" width="1" height="42"/>
<rect x="666" y="290" width="3" height="29"/>
<rect x="671" y="304" width="1" height="20"/>
<rect x="670" y="316" width="3" height="5"/>
<rect x="675" y="279" width="1" height="42"/>
<rect x="674" y="287" width="3" height="30"/>
<rect x="675" y="288" width="1" height="28" fill="#fff"/>
<rect x="679" y="273" width="1" height="19"/>
<rect x="678" y="284" width="3" height="3"/>
<rect x="684" y="233" width="1" height="56"/>
<rect x="683" y="247" width="3" height="40"/>
<rect x="684" y="248" width="1" height="38" fill="#fff"/>
<rect x="688" y="228" width="1" height="38"/>
<rect x="687" y="236" width="3" height="24"/>
<rect x="692" y="242" width="1" height="46"/>
<rect x="691" y="259" width="3" height="9"/>
<rect x="697" y="253" width="1" height="35"/>
<rect x="696" y="261" width="3" height="21"/>
<rect x="701" y="244" width="1" height="38"/>
<rect x="700" y="266" width="3" height="14"/>
<rect x="701" y="267" width="1" height="12" fill="#fff"/>
<rect x="705" y="253" width="1" height="145"/>
<rect x="704" y="253" width="3" height="135"/>
<rect x="709" y="384" width="1" height="131"/>
<rect x="708" y="389" width="3" height="122"/>
<rect x="714" y="441" width="1" height="145"/>
<rect x="713" y="493" width="3" height="18"/>
<rect x="714" y="494" width="1" height="16" fill="#fff"/>
<rect x="718" y="452" width="1" height="43"/>
<rect x="717" y="471" width="3" height="20"/>
<rect x="722" y="428" width="1" height="81"/>
<rect x="721" y="458" width="3" height="28"/>
<rect x="722" y="459" width="1" height="26" fill="#fff"/>
<rect x="727" y="420" width="1" height="32"/>
<rect x="726" y="431" width="3" height="11"/>
<rect x="731" y="376" width="1" height="60"/>
<rect x="730" y="391" width="3" height="34"/>
<rect x="731" y="392" width="1" height="32" fill="#fff"/>
<rect x="735" y="368" width="1" height="33"/>
<rect x="734" y="377" width="3" height="2"/>
<rect x="739" y="366" width="1" height="16"/>
<rect x="738" y="372" width="3" height="1"/>
<rect x="744" y="333" width="1" height="41"/>
<rect x="743" y="342" width="3" height="31"/>
<rect x="744" y="343" width="1" height="29" fill="#fff"/>
<rect x="748" y="344" width="1" height="37"/>
<rect x="747" y="351" width="3" height="13"/>
<rect x="752" y="336" width="1" height="32"/>
<rect x="751" y="362" width="3" height="5"/>
<rect x="752" y="363" width="1" height="3" fill="#fff"/>
<rect x="756" y="333" width="1" height="41"/>
<rect x="755" y="345" width="3" height="13"/>
<rect x="756" y="346" width="1" height="11" fill="#fff"/>
<rect x="761" y="310" width="1" height="72"/>
<rect x="760" y="316" width="3" height="49"/>
<rect x="761" y="317" width="1" height="47" fill="#fff"/>
<rect x="765" y="310" width="1" height="25"/>
<rect x="764" y="315" width="3" height="3"/>
<rect x="769" y="310" width="1" height="42"/>
<rect x="768" y="316" width="3" height="24"/>
<rect x="774" y="333" width="1" height="25"/>
<rect x="773" y="339" width="3" height="1"/>
<rect x="778" y="303" width="1" height="31"/>
<rect x="777" y="315" width="3" height="8"/>
<rect x="778" y="316" width="1" height="6" fill="#fff"/>
<rect x="782" y="325" width="1" height="43"/>
<rect x="781" y="332" width="3" height="16"/>
<rect x="786" y="347" width="1" height="45"/>
<rect x="785" y="349" width="3" height="16"/>
<rect x="791" y="342" width="1" height="38"/>
<rect x="790" y="357" width="3" height="18"/>
<rect x="795" y="346" width="1" height="32"/>
<rect x="794" y="364" width="3" height="11"/>
<rect x="795" y="365" width="1" height="9" fill="#fff"/>
<rect x="799" y="319" width="1" height="37"/>
<rect x="798" y="323" width="3" height="33"/>
<rect x="799" y="324" width="1" height="31" fill="#fff"/>
<rect x="804" y="319" width="1" height="47"/>
<rect x="803" y="319" width="3" height="32"/>
<rect x="808" y="336" width="1" height="32"/>
<rect x="807" y="358" width="3" height="3"/>
<rect x="808" y="359" width="1" height="1" fill="#fff"/>
<rect x="812" y="339" width="1" height="29"/>
<rect x="811" y="344" width="3" height="14"/>
<rect x="812" y="345" width="1" height="12" fill="#fff"/>
<rect x="816" y="332" width="1" height="52"/>
<rect x="815" y="359" width="3" height="1"/>
<rect x="821" y="321" width="1" height="33"/>
<rect x="820" y="336" width="3" height="15"/>
<rect x="821" y="337" width="1" height="13" fill="#fff"/>
<rect x="825" y="334" width="1" height="40"/>
<rect x="824" y="337" width="3" height="29"/>
<rect x="829" y="349" width="1" height="45"/>
<rect x="828" y="355" width="3" height="13"/>
<rect x="829" y="356" width="1" height="11" fill="#fff"/>
<rect x="833" y="347" width="1" height="39"/>
<rect x="832" y="350" width="3" height="21"/>
<rect x="838" y="350" width="1" height="18"/>
<rect x="837" y="361" width="3" height="3"/>
<rect x="842" y="327" width="1" height="48"/>
<rect x="841" y="333" width="3" height="31"/>
<rect x="842" y="334" width="1" height="29" fill="#fff"/>
<rect x="846" y="306" width="1" height="28"/>
<rect x="845" y="312" width="3" height="16"/>
<rect x="846" y="313" width="1" height="14" fill="#fff"/>
<rect x="851" y="299" width="1" height="53"/>
<rect x="850" y="314" width="3" height="18"/>
<rect x="855" y="309" width="1" height="30"/>
<rect x="854" y="313" width="3" height="19"/>
<rect x="855" y="314" width="1" height="17" fill="#fff"/>
<rect x="859" y="307" width="1" height="39"/>
<rect x="858" y="313" width="3" height="15"/>
<rect x="863" y="315" width="1" height="23"/>
<rect x="862" y="324" width="3" height="10"/>
<rect x="868" y="311" width="1" height="38"/>
<rect x="867" y="322" width="3" height="14"/>
<rect x="868" y="323" width="1" height="12" fill="#fff"/>
<rect x="872" y="319" width="1" height="27"/>
<rect x="871" y="320" width="3" height="19"/>
<rect x="876" y="253" width="1" height="83"/>
<rect x="875" y="264" width="3" height="72"/>
<rect x="876" y="265" width="1" height="70" fill="#fff"/>
<rect x="881" y="254" width="1" height="34"/>
<rect x="880" y="254" width="3" height="14"/>
<rect x="885" y="259" width="1" height="21"/>
<rect x="884" y="265" width="3" height="3"/>
<rect x="889" y="194" width="1" height="74"/>
<rect x="888" y="215" width="3" height="51"/>
<rect x="889" y="216" width="1" height="49" fill="#fff"/>
<rect x="893" y="183" width="1" height="34"/>
<rect x="892" y="200" width="3" height="16"/>
<rect x="893" y="201" width="1" height="14" fill="#fff"/>
<rect x="898" y="159" width="1" height="43"/>
<rect x="897" y="170" width="3" height="28"/>
<rect x="898" y="171" width="1" height="26" fill="#fff"/>
<rect x="902" y="162" width="1" height="24"/>
<rect x="901" y="166" width="3" height="12"/>
<rect x="906" y="170" width="1" height="28"/>
<rect x="905" y="175" width="3" height="20"/>
<rect x="911" y="179" width="1" height="46"/>
<rect x="910" y="190" width="3" height="4"/>
<rect x="915" y="171" width="1" height="33"/>
<rect x="914" y="187" width="3" height="4"/>
<rect x="919" y="177" width="1" height="23"/>
<rect x="918" y="186" width="3" height="1"/>
<rect x="923" y="146" width="1" height="52"/>
<rect x="922" y="154" width="3" height="35"/>
<rect x="923" y="155" width="1" height="33" fill="#fff"/>
<rect x="928" y="143" width="1" height="38"/>
<rect x="927" y="152" width="3" height="14"/>
<rect x="932" y="169" width="1" height="59"/>
<rect x="931" y="172" width="3" height="34"/>
<rect x="936" y="192" width="1" height="24"/>
<rect x="935" y="197" width="3" height="9"/>
<rect x="936" y="198" width="1" height="7" fill="#fff"/>
<rect x="940" y="198" width="1" height="44"/>
<rect x="939" y="203" width="3" height="16"/>
<rect x="945" y="193" width="1" height="29"/>
<rect x="944" y="201" width="3" height="11"/>
<rect x="945" y="202" width="1" height="9" fill="#fff"/>
<rect x="949" y="171" width="1" height="27"/>
<rect x="948" y="179" width="3" height="17"/>
<rect x="949" y="180" width="1" height="15" fill="#fff"/>
<rect x="953" y="162" width="1" height="46"/>
<rect x="952" y="166" width="3" height="23"/>
<rect x="958" y="185" width="1" height="39"/>
<rect x="957" y="198" width="3" height="1"/>
<rect x="962" y="166" width="1" height="36"/>
<rect x="961" y="188" width="3" height="4"/>
<rect x="962" y="189" width="1" height="2" fill="#fff"/>
<rect x="966" y="169" width="1" height="33"/>
<rect x="965" y="173" width="3" height="22"/>
<rect x="966" y="174" width="1" height="20" fill="#fff"/>
<rect x="970" y="147" width="1" height="33"/>
<rect x="969" y="157" width="3" height="14"/>
<rect x="970" y="158" width="1" height="12" fill="#fff"/>
<rect x="975" y="141" width="1" height="50"/>
<rect x="974" y="154" width="3" height="12"/>
<rect x="979" y="157" width="1" height="29"/>
<rect x="978" y="163" width="3" height="9"/>
<rect x="983" y="163" width="1" height="21"/>
<rect x="982" y="164" width="3" height="14"/>
<rect x="988" y="130" width="1" height="49"/>
<rect x="987" y="147" width="3" height="32"/>
<rect x="988" y="148" width="1" height="30" fill="#fff"/>
<rect x="992" y="65" width="1" height="73"/>
<rect x="991" y="65" width="3" height="67"/>
<rect x="992" y="66" width="1" height="65" fill="#fff"/>
</g>
<g transform="translate(68.5,676.3)" fill="none" stroke="#4527a5" stroke-width="1.3" stroke-linecap="round" stroke-linejoin="round"><circle r="9.6" fill="#fdfaff"/><path d="M-4.7,-3.5 L-0.4,0.2 L6.3,0.2 M3,-3 L6.4,0.2 L3,3.5 M-5.2,4.6 L-2.6,1.9"/></g>
<g transform="translate(337.5,676.3)" fill="none" stroke="#4527a5" stroke-width="1.3" stroke-linecap="round" stroke-linejoin="round"><circle r="9.6" fill="#fdfaff"/><path d="M-4.7,-3.5 L-0.4,0.2 L6.3,0.2 M3,-3 L6.4,0.2 L3,3.5 M-5.2,4.6 L-2.6,1.9"/></g>
<g transform="translate(598.5,676.3)" fill="none" stroke="#4527a5" stroke-width="1.3" stroke-linecap="round" stroke-linejoin="round"><circle r="9.6" fill="#fdfaff"/><path d="M-4.7,-3.5 L-0.4,0.2 L6.3,0.2 M3,-3 L6.4,0.2 L3,3.5 M-5.2,4.6 L-2.6,1.9"/></g>
<g transform="translate(778.5,676.3)" fill="none" stroke="#4527a5" stroke-width="1.3" stroke-linecap="round" stroke-linejoin="round"><circle r="9.6" fill="#fdfaff"/><path d="M-4.7,-3.5 L-0.4,0.2 L6.3,0.2 M3,-3 L6.4,0.2 L3,3.5 M-5.2,4.6 L-2.6,1.9"/></g>
<g transform="translate(953.5,676.3)" fill="none" stroke="#4527a5" stroke-width="1.3" stroke-linecap="round" stroke-linejoin="round"><circle r="9.6" fill="#fdfaff"/><path d="M-4.7,-3.5 L-0.4,0.2 L6.3,0.2 M3,-3 L6.4,0.2 L3,3.5 M-5.2,4.6 L-2.6,1.9"/></g>
<g transform="translate(1137.5,676.3)" fill="none" stroke="#4527a5" stroke-width="1.3" stroke-linecap="round" stroke-linejoin="round"><circle r="9.6" fill="#fdfaff"/><path d="M-4.7,-3.5 L-0.4,0.2 L6.3,0.2 M3,-3 L6.4,0.2 L3,3.5 M-5.2,4.6 L-2.6,1.9"/></g>
<g transform="translate(992.5,676.3)">
<circle r="10.3" fill="#fff"/>
<path d="M9.13,-2.97 A9.6,9.6 0 1 1 3.60,-8.90" fill="none" stroke="#6c2c96" stroke-width="1.3" stroke-linecap="round"/>
<path d="M2.35,-4.5 L-3.9,0.45 L-0.4,0.45 L-2.85,5.1 L3.7,-0.4 L0.15,-0.4 Z" fill="#7b2fa8"/>
<circle cx="7" cy="-6.7" r="2.5" fill="#d93f4b"/>
</g>
<g stroke="#fff" stroke-width="4" stroke-linejoin="round" fill="#fff">
<path d="M12,660 H23.8 V674.8 H18 V665.7 H12 Z"/><circle cx="29" cy="662.9" r="2.8"/><path d="M34.3,660 H41.8 L36.7,674.8 H29.3 Z"/>
<text x="49" y="675" font-family="'Liberation Sans', Arial, sans-serif" font-weight="bold" font-size="19.5" textLength="121" lengthAdjust="spacingAndGlyphs">TradingView</text>
</g>
<g fill="#000">
<path d="M12,660 H23.8 V674.8 H18 V665.7 H12 Z"/><circle cx="29" cy="662.9" r="2.8"/><path d="M34.3,660 H41.8 L36.7,674.8 H29.3 Z"/>
<text x="49" y="675" font-family="'Liberation Sans', Arial, sans-serif" font-weight="bold" font-size="19.5" textLength="121" lengthAdjust="spacingAndGlyphs">TradingView</text>
</g>
<g font-family="'Liberation Sans', Arial, sans-serif" font-size="11.5" fill="#6f7178">
<text x="67.2" y="706.8" textLength="18.5" lengthAdjust="spacingAndGlyphs">Sep</text>
<text x="153.3" y="706.8" textLength="18.3" lengthAdjust="spacingAndGlyphs">Oct</text>
<text x="250.8" y="706.8" textLength="19.3" lengthAdjust="spacingAndGlyphs">Nov</text>
<text x="336.6" y="706.8" textLength="19.9" lengthAdjust="spacingAndGlyphs">Dec</text>
<text x="515.8" y="706.8" textLength="19.4" lengthAdjust="spacingAndGlyphs">Feb</text>
<text x="597.8" y="706.8" textLength="19.5" lengthAdjust="spacingAndGlyphs">Mar</text>
<text x="688.1" y="706.8" textLength="18.8" lengthAdjust="spacingAndGlyphs">Apr</text>
<text x="775.9" y="706.8" textLength="21.3" lengthAdjust="spacingAndGlyphs">May</text>
<text x="867.5" y="706.8" textLength="18" lengthAdjust="spacingAndGlyphs">Jun</text>
<text x="955.0" y="706.8" textLength="15" lengthAdjust="spacingAndGlyphs">Jul</text>
<text x="1046.9" y="706.8" textLength="19.2" lengthAdjust="spacingAndGlyphs">Aug</text>
<text x="1137.2" y="706.8" textLength="18.5" lengthAdjust="spacingAndGlyphs">Sep</text>
<text x="422.6" y="706.8" fill="#55575e" font-weight="bold" textLength="27.8" lengthAdjust="spacingAndGlyphs">2025</text>
</g>
<g font-family="'Liberation Sans', Arial, sans-serif" font-size="11.7" fill="#7b7d83">
<text x="1224" y="659.2" textLength="35.4" lengthAdjust="spacingAndGlyphs">26.000</text>
<text x="1224" y="614.3" textLength="35.4" lengthAdjust="spacingAndGlyphs">27.000</text>
<text x="1224" y="569.4" textLength="35.4" lengthAdjust="spacingAndGlyphs">28.000</text>
<text x="1224" y="524.4" textLength="35.4" lengthAdjust="spacingAndGlyphs">29.000</text>
<text x="1224" y="479.5" textLength="35.4" lengthAdjust="spacingAndGlyphs">30.000</text>
<text x="1224" y="434.6" textLength="35.4" lengthAdjust="spacingAndGlyphs">31.000</text>
<text x="1224" y="389.6" textLength="35.4" lengthAdjust="spacingAndGlyphs">32.000</text>
<text x="1224" y="344.7" textLength="35.4" lengthAdjust="spacingAndGlyphs">33.000</text>
<text x="1224" y="299.8" textLength="35.4" lengthAdjust="spacingAndGlyphs">34.000</text>
<text x="1224" y="209.9" textLength="35.4" lengthAdjust="spacingAndGlyphs">36.000</text>
<text x="1224" y="165.0" textLength="35.4" lengthAdjust="spacingAndGlyphs">37.000</text>
<text x="1224" y="120.1" textLength="35.4" lengthAdjust="spacingAndGlyphs">38.000</text>
<text x="1224" y="30.2" textLength="35.4" lengthAdjust="spacingAndGlyphs">40.000</text>
</g>
<g font-family="'Liberation Sans', Arial, sans-serif" font-size="11.7">
<text x="1224" y="69.5" fill="#000" textLength="35.2" lengthAdjust="spacingAndGlyphs">39.125</text>
<text x="1224" y="83.8" fill="#4a4a4e" textLength="45.8" lengthAdjust="spacingAndGlyphs">02:34:05</text>
</g>
<path d="M1216,130 H1263 a2,2 0 0 1 2,2 V145 a2,2 0 0 1 -2,2 H1216 Z" fill="#2c5fef"/><text x="1224" y="142.7" font-family="'Liberation Sans', Arial, sans-serif" font-size="11.7" fill="#fff" stroke="#fff" stroke-width="0.45" textLength="35.4" lengthAdjust="spacingAndGlyphs">37.500</text>
<path d="M1216,344 H1263 a2,2 0 0 1 2,2 V359 a2,2 0 0 1 -2,2 H1216 Z" fill="#2c5fef"/><text x="1224" y="356.7" font-family="'Liberation Sans', Arial, sans-serif" font-size="11.7" fill="#fff" stroke="#fff" stroke-width="0.45" textLength="35.4" lengthAdjust="spacingAndGlyphs">32.746</text>
<path d="M1216,227 H1263 a2,2 0 0 1 2,2 V242 a2,2 0 0 1 -2,2 H1216 Z" fill="#ee3349"/><text x="1224" y="239.7" font-family="'Liberation Sans', Arial, sans-serif" font-size="11.7" fill="#fff" stroke="#fff" stroke-width="0.45" textLength="35.4" lengthAdjust="spacingAndGlyphs">35.359</text>
<path d="M1216,243.8 H1263 a2,2 0 0 1 2,2 V258.8 a2,2 0 0 1 -2,2 H1216 Z" fill="#2c5fef"/><text x="1224" y="256.5" font-family="'Liberation Sans', Arial, sans-serif" font-size="11.7" fill="#fff" stroke="#fff" stroke-width="0.45" textLength="35.4" lengthAdjust="spacingAndGlyphs">35.000</text>
<path d="M1216,575 H1265.5 a2,2 0 0 1 2,2 V590 a2,2 0 0 1 -2,2 H1216 Z" fill="#27a597"/><text x="1224" y="587.7" font-family="'Liberation Sans', Arial, sans-serif" font-size="11.7" fill="#fff" stroke="#fff" stroke-width="0.45" textLength="38.5" lengthAdjust="spacingAndGlyphs">94.05 K</text>
<g transform="translate(1248.4,703.4)" fill="none" stroke="#111" stroke-width="1.4" stroke-linejoin="round"><path d="M-7,0 L-3.6,-6.1 L3.6,-6.1 L7,0 L3.6,6.1 L-3.6,6.1 Z"/><circle r="2.1"/></g>
<rect x="0" y="717" width="1281" height="2" fill="#0c0c0c"/>
<circle cx="18" cy="12" r="9" fill="#a7a8b5"/>
<g fill="#fff"><path d="M16.35,7.85 H20 L21.2,10.85 H14.85 Z"/><path d="M13.2,12 H15.5 L16.85,14.85 H11.2 Z"/><path d="M20.2,12 H22.7 L24.4,14.85 H18.7 Z"/></g>
<text y="17.5" font-family="'Liberation Sans', Arial, sans-serif" font-size="15" fill="#6c6d74" stroke="#6c6d74" stroke-width="0.25"><tspan x="31" textLength="97.8" lengthAdjust="spacingAndGlyphs">Silver Futures</tspan><tspan x="127.1" font-weight="bold" font-size="17" dy="0.6"> · </tspan><tspan x="141.7" dy="-0.6" textLength="17" lengthAdjust="spacingAndGlyphs">1D</tspan><tspan x="157.8" font-weight="bold" font-size="17" dy="0.6"> · </tspan><tspan x="171.7" dy="-0.6" textLength="49" lengthAdjust="spacingAndGlyphs">COMEX</tspan></text>
<path d="M245.1,3.2 H256 V20.8 H245.1 a8.8,8.8 0 0 1 0,-17.6 Z" fill="#d9efec"/>
<path d="M256,3.2 H266.9 a8.8,8.8 0 0 1 0,17.6 H256 Z" fill="#f6b8d0"/>
<circle cx="246.9" cy="12" r="4" fill="#1a9986"/>
<text x="265.2" y="16.6" font-family="'Liberation Sans', Arial, sans-serif" font-size="14" font-weight="bold" fill="#e0256b" text-anchor="middle">≈</text>
<text y="16.6" font-family="'Liberation Sans', Arial, sans-serif" font-size="12.3"><tspan x="292" fill="#8a8b91" textLength="8.2" lengthAdjust="spacingAndGlyphs">O</tspan><tspan x="301.9" fill="#111" textLength="37.5" lengthAdjust="spacingAndGlyphs">37.645</tspan> <tspan x="346.9" fill="#8a8b91" textLength="7.5" lengthAdjust="spacingAndGlyphs">H</tspan><tspan x="356.3" fill="#111" textLength="37.5" lengthAdjust="spacingAndGlyphs">39.125</tspan> <tspan x="401.3" fill="#8a8b91" textLength="5.6" lengthAdjust="spacingAndGlyphs">L</tspan><tspan x="408.8" fill="#111" textLength="37.7" lengthAdjust="spacingAndGlyphs">37.510</tspan> <tspan x="453.5" fill="#8a8b91" textLength="6.8" lengthAdjust="spacingAndGlyphs">C</tspan><tspan x="462.3" fill="#111" textLength="37.5" lengthAdjust="spacingAndGlyphs">39.125</tspan> <tspan x="507.5" fill="#111" textLength="37.3" lengthAdjust="spacingAndGlyphs">+1.820</tspan> <tspan x="550" fill="#111" textLength="47.8" lengthAdjust="spacingAndGlyphs">(+4.88%)</tspan></text>
<rect x="8.5" y="28.5" width="61" height="33" rx="5" fill="#fff" stroke="#d0606c" stroke-width="1"/>
<rect x="110.5" y="28.5" width="61" height="33" rx="5" fill="#fff" stroke="#4c6fae" stroke-width="1"/>
<text x="39" y="43" font-family="'Liberation Sans', Arial, sans-serif" font-size="12.6" fill="#c94f5c" text-anchor="middle" textLength="38.6" lengthAdjust="spacingAndGlyphs">39.100</text>
<text x="38.5" y="56.5" font-family="'Liberation Sans', Arial, sans-serif" font-size="10" fill="#c94f5c" text-anchor="middle" textLength="23" lengthAdjust="spacingAndGlyphs">SELL</text>
<text x="141" y="43" font-family="'Liberation Sans', Arial, sans-serif" font-size="12.6" fill="#4465a8" text-anchor="middle" textLength="38.6" lengthAdjust="spacingAndGlyphs">39.110</text>
<text x="140.5" y="56.5" font-family="'Liberation Sans', Arial, sans-serif" font-size="10" fill="#4465a8" text-anchor="middle" textLength="20" lengthAdjust="spacingAndGlyphs">BUY</text>
<text x="77.5" y="48.8" font-family="'Liberation Sans', Arial, sans-serif" font-size="10" fill="#111" textLength="24.4" lengthAdjust="spacingAndGlyphs">0.010</text>
<text x="9.5" y="82.5" font-family="'Liberation Sans', Arial, sans-serif" font-size="12" fill="#6c6d74">Vol</text>
<text x="34.5" y="82.5" font-family="'Liberation Sans', Arial, sans-serif" font-size="12.3" fill="#3aa597" textLength="41" lengthAdjust="spacingAndGlyphs">94.05 K</text>
<text x="9.5" y="106.5" font-family="'Liberation Sans', Arial, sans-serif" font-size="12" fill="#6c6d74" textLength="80" lengthAdjust="spacingAndGlyphs">EMA 200 close</text>
<text x="98" y="106.5" font-family="'Liberation Sans', Arial, sans-serif" font-size="12.3" fill="#3f62ad" textLength="38.3" lengthAdjust="spacingAndGlyphs">32.746</text>
<text x="9.5" y="130.3" font-family="'Liberation Sans', Arial, sans-serif" font-size="12" fill="#6c6d74" textLength="73" lengthAdjust="spacingAndGlyphs">EMA 50 close</text>
<text x="91.3" y="130.3" font-family="'Liberation Sans', Arial, sans-serif" font-size="12.3" fill="#c9525f" textLength="38.1" lengthAdjust="spacingAndGlyphs">35.359</text>
<rect x="6.5" y="141.5" width="28" height="20" rx="3" fill="#fff" stroke="#dcdee4" stroke-width="1"/>
<path d="M16.6,153.2 L20.5,149.5 L24.4,153.2" fill="none" stroke="#111" stroke-width="1.7" stroke-linecap="round" stroke-linejoin="round"/>
</svg>
</body></html>
